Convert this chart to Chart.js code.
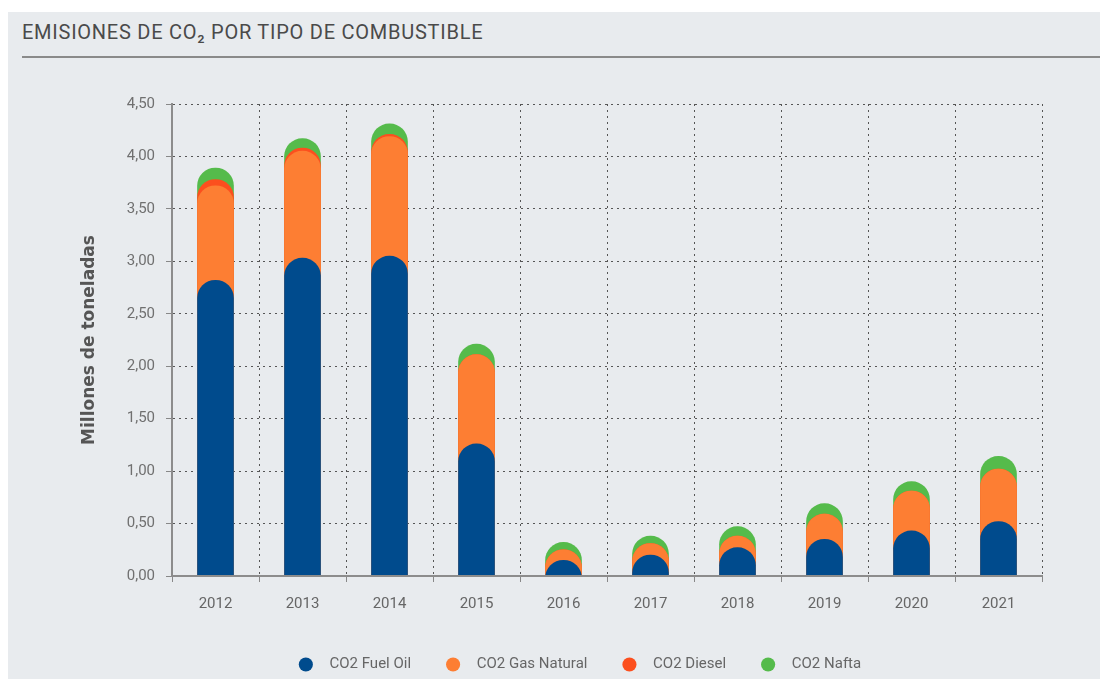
<!DOCTYPE html>
<html>
<head>
<meta charset="utf-8">
<script src="https://cdn.jsdelivr.net/npm/chart.js@4"></script>
<style>
    html, body { margin: 0; padding: 0; background: #fff; }
    #panel {
        position: absolute; left: 8px; top: 12px; width: 1092px; height: 667px;
        background: #e8ebee;
    }
    #title {
        position: absolute; left: 14px; top: 8px;
        font-family: Roboto, "Noto Sans", sans-serif; font-size: 20px; color: #4a4a4a;
        letter-spacing: 0.75px;
    }
    #rule {
        position: absolute; left: 14px; top: 44px; width: 1078px; height: 0;
        border-top: 2px solid #8a8a8a;
    }
    #wrap { position: absolute; left: 0; top: 0; width: 1100px; height: 679px; }
</style>
</head>
<body>
<div id="panel">
    <div id="title">EMISIONES DE CO₂ POR TIPO DE COMBUSTIBLE</div>
    <div id="rule"></div>
</div>
<div id="wrap"><canvas id="co2-chart"></canvas></div>
<script>
const years = ['2012', '2013', '2014', '2015', '2016', '2017', '2018', '2019', '2020', '2021'];

// millones de toneladas por combustible
const fuelOil    = [2.82, 3.03, 3.05, 1.26, 0.15, 0.20, 0.27, 0.35, 0.43, 0.52];
const gasNatural = [0.90, 1.02, 1.14, 0.85, 0.10, 0.11, 0.11, 0.24, 0.38, 0.50];
const diesel     = [0.06, 0.03, 0.02, 0.00, 0.00, 0.00, 0.00, 0.00, 0.00, 0.00];
const nafta      = [0.11, 0.09, 0.10, 0.10, 0.07, 0.07, 0.09, 0.10, 0.09, 0.12];

const yTicks = [0, 0.5, 1, 1.5, 2, 2.5, 3, 3.5, 4, 4.5];

// running totals so each series is drawn as a full pill behind the one below it
const addUp = (...series) => years.map((_, i) => series.reduce((a, s) => a + s[i], 0));

const fontFamily = 'Roboto, "Noto Sans", sans-serif';

const pill = (label, data, color) => ({
    label: label,
    data: data,
    backgroundColor: color,
    borderWidth: 0,
    borderRadius: 999,
    borderSkipped: 'start',
    base: -0.5,
    clip: 0,
    grouped: false,
    barThickness: 36
});

// keep the legend short so the padding only spaces the items apart,
// and nudge it right like in the original
const legendTweak = {
    id: 'legendTweak',
    afterInit(chart) {
        const legend = chart.legend;
        const fit = legend.fit.bind(legend);
        legend.fit = function () {
            fit();
            this.height = 59;
        };
    },
    afterLayout(chart) {
        chart.legend.left += 60;
        chart.legend.right += 60;
    }
};

new Chart(document.getElementById('co2-chart'), {
    type: 'bar',
    data: {
        labels: years,
        datasets: [
            pill('CO2 Fuel Oil', addUp(fuelOil), '#004b8d'),
            pill('CO2 Gas Natural', addUp(fuelOil, gasNatural), '#fd7e33'),
            pill('CO2 Diesel', addUp(fuelOil, gasNatural, diesel), '#fc4f1e'),
            pill('CO2 Nafta', addUp(fuelOil, gasNatural, diesel, nafta), '#55bb4b')
        ]
    },
    plugins: [legendTweak],
    options: {
        responsive: true,
        maintainAspectRatio: false,
        animation: false,
        layout: {
            padding: { top: 104, right: 58, left: 0, bottom: 0 }
        },
        scales: {
            x: {
                offset: true,
                grid: {
                    offset: true,
                    color: '#555',
                    lineWidth: 1,
                    tickLength: 6,
                    tickColor: '#888',
                    tickBorderDash: []
                },
                border: { display: true, color: '#8c8c8c', width: 2, dash: [2, 4], z: 1 },
                ticks: {
                    color: '#666',
                    padding: 13,
                    font: { family: fontFamily, size: 15 }
                },
                afterFit: (scale) => { scale.height = 44; }
            },
            y: {
                min: 0,
                max: 4.5,
                afterBuildTicks: (scale) => { scale.ticks = yTicks.map(v => ({ value: v })); },
                grid: {
                    color: '#555',
                    lineWidth: 1,
                    tickLength: 6,
                    tickColor: '#888',
                    tickBorderDash: []
                },
                border: { display: true, color: '#8c8c8c', width: 2, dash: [2, 4], z: 1 },
                ticks: {
                    color: '#707070',
                    padding: 11,
                    font: { family: fontFamily, size: 15 },
                    callback: (value) => value.toFixed(2).replace('.', ',')
                },
                title: {
                    display: true,
                    text: 'Millones de toneladas',
                    color: '#555',
                    font: { family: '"DejaVu Sans", Roboto, sans-serif', size: 17, weight: 'bold' },
                    padding: { top: 79, bottom: 0 }
                },
                afterFit: (scale) => { scale.width = 172; }
            }
        },
        plugins: {
            legend: {
                position: 'bottom',
                labels: {
                    usePointStyle: true,
                    pointStyle: 'circle',
                    boxWidth: 10,
                    boxHeight: 10,
                    padding: 37,
                    color: '#666',
                    font: { family: fontFamily, size: 15 },
                    generateLabels: (chart) => Chart.defaults.plugins.legend.labels.generateLabels(chart)
                        .map(item => ({ ...item, text: '   ' + item.text }))
                }
            },
            tooltip: { enabled: false }
        }
    }
});
</script>
</body>
</html>
